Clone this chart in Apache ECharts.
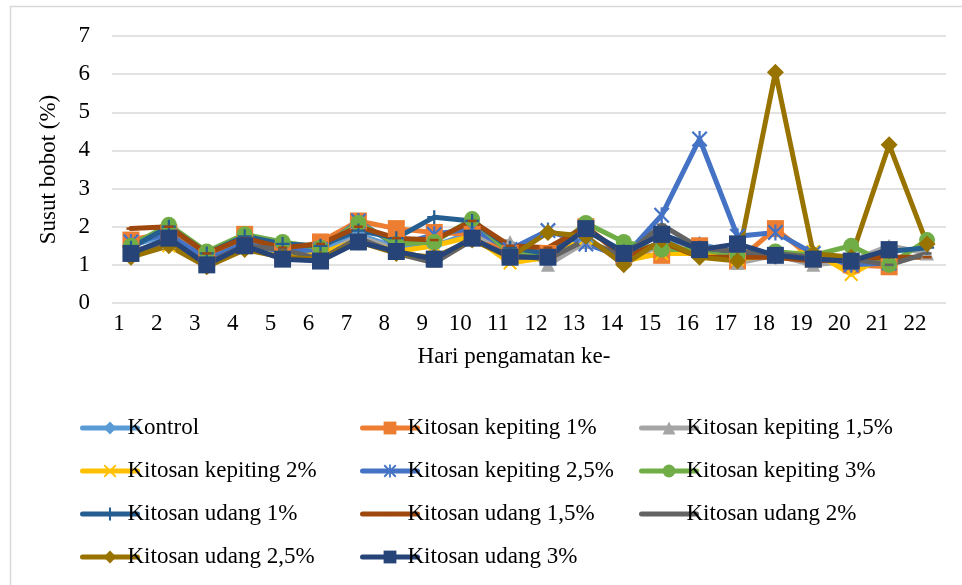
<!DOCTYPE html>
<html>
<head>
<meta charset="utf-8">
<script src="https://cdn.jsdelivr.net/npm/echarts@6/dist/echarts.min.js"></script>
<style>
  html, body { margin: 0; padding: 0; background: #fff; }
  #chart { width: 962px; height: 585px; }
</style>
</head>
<body>
<div id="chart"></div>
<script>
// ── Data ───────────────────────────────────────────────────────────────────
var days = ['1', '2', '3', '4', '5', '6', '7', '8', '9', '10', '11',
            '12', '13', '14', '15', '16', '17', '18', '19', '20', '21', '22'];

var kontrol    = [1.5, 1.8, 1.15, 1.6, 1.3, 1.35, 1.8, 1.45, 1.5, 1.85, 1.35, 1.3, 1.6, 1.2, 1.6, 1.55, 1.3, 1.3, 1.2, 1.0, 1.1, null];
var kepiting1  = [1.65, 1.85, 1.2, 1.8, 1.35, 1.6, 2.15, 1.95, 1.85, 1.8, 1.3, 1.3, 2.0, 1.25, 1.25, 1.5, 1.1, 1.95, 1.15, 1.0, 0.95, null];
var kepiting15 = [1.35, 1.6, 1.1, 1.5, 1.3, 1.25, 1.75, 1.4, 1.1, 1.7, 1.6, 1.0, 1.6, 1.15, 1.5, 1.45, 1.05, 1.25, 1.0, 1.1, 1.5, 1.3];
var kepiting2  = [1.25, 1.5, 1.0, 1.45, 1.2, 1.3, 1.65, 1.35, 1.5, 1.75, 1.05, 1.2, 1.7, 1.1, 1.3, 1.3, 1.15, 1.25, 1.35, 0.75, 1.3, null];
var kepiting25 = [1.6, 1.8, 1.15, 1.55, 1.35, 1.4, 2.15, 1.5, 1.8, 1.95, 1.4, 1.9, 1.55, 1.2, 2.3, 4.3, 1.75, 1.85, 1.3, 1.0, 1.05, null];
var kepiting3  = [1.5, 2.05, 1.35, 1.8, 1.6, 1.45, 2.1, 1.55, 1.6, 2.2, 1.3, 1.25, 2.1, 1.6, 1.4, 1.4, 1.25, 1.35, 1.25, 1.5, 1.0, 1.65];
var udang1     = [1.45, 2.0, 1.3, 1.75, 1.55, 1.5, 1.9, 1.7, 2.25, 2.15, 1.45, 1.3, 1.9, 1.35, 1.8, 1.45, 1.35, 1.2, 1.15, 1.1, 1.35, 1.45];
var udang15    = [1.95, 2.0, 1.3, 1.7, 1.45, 1.55, 2.0, 1.7, 1.65, 2.15, 1.5, 1.45, 2.0, 1.2, 1.6, 1.2, 1.2, 1.2, 1.1, 1.15, 1.2, 1.2];
var udang2     = [1.3, 1.6, 1.05, 1.5, 1.4, 1.15, 1.7, 1.3, 1.05, 1.65, 1.25, 1.15, 1.65, 1.2, 2.05, 1.45, 1.35, 1.3, 1.2, 1.15, 1.0, 1.3];
var udang25    = [1.2, 1.5, 0.95, 1.4, 1.2, 1.15, 1.6, 1.3, 1.2, 1.65, 1.2, 1.85, 1.75, 1.0, 1.65, 1.2, 1.1, 6.05, 1.3, 1.2, 4.15, 1.55];
var udang3     = [1.3, 1.7, 1.0, 1.5, 1.15, 1.1, 1.6, 1.35, 1.15, 1.7, 1.2, 1.2, 1.95, 1.3, 1.8, 1.4, 1.55, 1.25, 1.15, 1.1, 1.4, null];

var yTicks = [0, 1, 2, 3, 4, 5, 6, 7];

// ── Marker shapes (Excel-like) ─────────────────────────────────────────────
var SYM_X     = 'path://M0,1L1,0L5,4L9,0L10,1L6,5L10,9L9,10L5,6L1,10L0,9L4,5Z';
var SYM_STAR  = 'path://M0,1L1,0L5,4L9,0L10,1L6,5L10,9L9,10L5,6L1,10L0,9L4,5ZM4.3,0H5.7V10H4.3Z';
var SYM_PLUS  = 'path://M4.2,0H5.8V4.2H10V5.8H5.8V10H4.2V5.8H0V4.2H4.2Z';
// short bar inside a 10x10 box, so it is not stretched into a square
var SYM_DASH  = 'path://M0,0M10,10M0,3.6H10V6.4H0Z';

var FONT = 'Liberation Serif';
var LINE_W = 5;

function line(name, data, color, symbol, size) {
  return {
    name: name,
    type: 'line',
    data: data,
    symbol: symbol,
    symbolSize: size,
    showAllSymbol: true,
    connectNulls: false,
    lineStyle: { color: color, width: LINE_W, cap: 'round', join: 'round' },
    itemStyle: { color: color },
    emphasis: { disabled: true }
  };
}

var series = [
  line('Kontrol', kontrol, '#5B9BD5', 'diamond', 16),
  line('Kitosan kepiting 1%', kepiting1, '#ED7D31', 'rect', 17),
  line('Kitosan kepiting 1,5%', kepiting15, '#A5A5A5', 'triangle', 14),
  line('Kitosan kepiting 2%', kepiting2, '#FFC000', SYM_X, 14),
  line('Kitosan kepiting 2,5%', kepiting25, '#4472C4', SYM_STAR, 16),
  line('Kitosan kepiting 3%', kepiting3, '#70AD47', 'circle', 16),
  line('Kitosan udang 1%', udang1, '#255E91', SYM_PLUS, 14),
  line('Kitosan udang 1,5%', udang15, '#9E480E', SYM_DASH, 9),
  line('Kitosan udang 2%', udang2, '#636363', SYM_DASH, 9),
  line('Kitosan udang 2,5%', udang25, '#997300', 'diamond', 17),
  line('Kitosan udang 3%', udang3, '#264478', 'rect', 17)
];

function legendColumn(left, names) {
  return {
    orient: 'vertical',
    left: left,
    top: 411,
    padding: 0,
    data: names,
    itemWidth: 55,
    itemHeight: 16,
    itemGap: 9,
    selectedMode: false,
    lineStyle: { width: LINE_W, cap: 'round' },
    textStyle: { fontFamily: FONT, fontSize: 23, color: '#000', lineHeight: 24, padding: [0, 0, 10, -15] }
  };
}

var chart = echarts.init(document.getElementById('chart'), null, { renderer: 'canvas' });

chart.setOption({
  animation: false,
  backgroundColor: '#fff',
  grid: { left: 112, right: 16, top: 36, bottom: 282, containLabel: false },
  graphic: [{
    type: 'rect',
    shape: { x: 10.5, y: 6.5, width: 1000, height: 700 },
    style: { fill: 'none', stroke: '#d9d9d9', lineWidth: 1.5 },
    silent: true,
    z: -1
  }],
  legend: [
    legendColumn(80, ['Kontrol', 'Kitosan kepiting 2%', 'Kitosan udang 1%', 'Kitosan udang 2,5%']),
    legendColumn(360, ['Kitosan kepiting 1%', 'Kitosan kepiting 2,5%', 'Kitosan udang 1,5%', 'Kitosan udang 3%']),
    legendColumn(639, ['Kitosan kepiting 1,5%', 'Kitosan kepiting 3%', 'Kitosan udang 2%'])
  ],
  xAxis: {
    type: 'category',
    data: days,
    boundaryGap: true,
    name: 'Hari pengamatan ke-',
    nameLocation: 'middle',
    nameGap: 42,
    nameTextStyle: { fontFamily: FONT, fontSize: 23, color: '#000', padding: [0, 30, 0, 0] },
    axisLine: { show: false },
    axisTick: { show: false },
    axisLabel: {
      interval: 0,
      margin: 9,
      fontFamily: FONT,
      fontSize: 23,
      color: '#000',
      padding: [0, 24, 0, 0]
    }
  },
  yAxis: {
    type: 'value',
    min: yTicks[0],
    max: yTicks[yTicks.length - 1],
    interval: 1,
    name: 'Susut bobot (%)',
    nameLocation: 'middle',
    nameRotate: 90,
    nameGap: 52,
    nameTextStyle: { fontFamily: FONT, fontSize: 23, color: '#000' },
    axisLine: { show: false },
    axisTick: { show: false },
    axisLabel: { margin: 22, fontFamily: FONT, fontSize: 23, color: '#000' },
    splitLine: { lineStyle: { color: '#d9d9d9', width: 1.5 } }
  },
  series: series
});
</script>
</body>
</html>
